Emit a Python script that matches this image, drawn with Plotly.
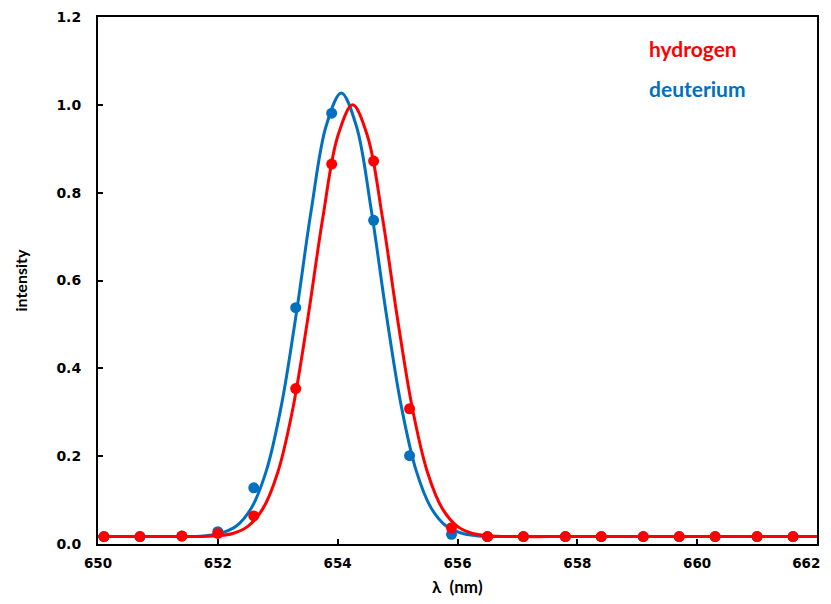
import plotly.graph_objects as go

# measured points
wavelength = [650.1, 650.7, 651.4, 652.0, 652.6, 653.3, 653.9, 654.6, 655.2, 655.9,
              656.5, 657.1, 657.8, 658.4, 659.1, 659.7, 660.3, 661.0, 661.6]
hydrogen = [0.017, 0.017, 0.018, 0.024, 0.064, 0.354, 0.865, 0.872, 0.308, 0.037,
            0.017, 0.017, 0.017, 0.017, 0.017, 0.017, 0.017, 0.017, 0.017]
deuterium = [0.017, 0.017, 0.018, 0.028, 0.128, 0.538, 0.981, 0.737, 0.201, 0.022,
             0.017, 0.017, 0.017, 0.017, 0.017, 0.017, 0.017, 0.017, 0.017]

# fitted curves
fit_h_x = [650.0, 651.0, 651.5, 652.0, 652.25, 652.5, 652.75, 653.0, 653.25, 653.5, 653.75,
           654.0, 654.25, 654.5, 654.75, 655.0, 655.25, 655.5, 655.75, 656.0, 656.25,
           656.5, 657.0, 658.0, 662.0]
fit_h_y = [0.017, 0.017, 0.017, 0.019, 0.024, 0.040, 0.080, 0.163, 0.307, 0.512, 0.741,
           0.928, 1.000, 0.928, 0.741, 0.512, 0.307, 0.163, 0.080, 0.040, 0.024,
           0.019, 0.017, 0.017, 0.017]
fit_d_x = [650.0, 651.0, 651.56, 651.81, 652.06, 652.31, 652.56, 652.81, 653.06, 653.31,
           653.56, 653.81, 654.06, 654.31, 654.56, 654.81, 655.06, 655.31, 655.56,
           655.81, 656.06, 656.31, 656.56, 657.0, 658.0, 662.0]
fit_d_y = [0.017, 0.017, 0.017, 0.019, 0.025, 0.041, 0.082, 0.167, 0.315, 0.525,
           0.761, 0.953, 1.027, 0.953, 0.761, 0.525, 0.315, 0.167, 0.082,
           0.041, 0.025, 0.019, 0.017, 0.017, 0.017, 0.017]

x_ticks = [650, 652, 654, 656, 658, 660, 662]
y_ticks = [0.0, 0.2, 0.4, 0.6, 0.8, 1.0, 1.2]

RED = "#FF0000"
BLUE = "#0070C0"

fig = go.Figure()
fig.add_trace(go.Scatter(x=fit_d_x, y=fit_d_y, mode="lines", line=dict(color=BLUE, width=3, shape="spline"),
                         showlegend=False, hoverinfo="skip"))
fig.add_trace(go.Scatter(x=fit_h_x, y=fit_h_y, mode="lines", line=dict(color=RED, width=3, shape="spline"),
                         showlegend=False, hoverinfo="skip"))
fig.add_trace(go.Scatter(x=wavelength, y=deuterium, mode="markers", marker=dict(color=BLUE, size=11),
                         name="deuterium", showlegend=False, cliponaxis=False))
fig.add_trace(go.Scatter(x=wavelength, y=hydrogen, mode="markers", marker=dict(color=RED, size=11),
                         name="hydrogen", showlegend=False, cliponaxis=False))

fig.add_annotation(x=0.764, y=0.941, xref="paper", yref="paper", xanchor="left", yanchor="middle",
                   text="<b>hydrogen</b>", showarrow=False, font=dict(family="Lato", size=21, color=RED))
fig.add_annotation(x=0.764, y=0.865, xref="paper", yref="paper", xanchor="left", yanchor="middle",
                   text="<b>deuterium</b>", showarrow=False, font=dict(family="Lato", size=21, color=BLUE))

# axis titles
fig.add_annotation(x=-(98 - 20) / 719, y=0.5, xref="paper", yref="paper", xanchor="center",
                   text="<b>intensity</b>", showarrow=False,
                   textangle=-90, font=dict(family="Lato", size=16, color="black"))
fig.add_annotation(x=0.5, y=-0.080, xref="paper", yref="paper", text="<b>λ  (nm)</b>", showarrow=False,
                   yanchor="middle", font=dict(family="Lato", size=17, color="black"))

axis_common = dict(showline=True, linecolor="black", linewidth=2, mirror=True, ticks="inside",
                   ticklen=5, tickwidth=2, tickcolor="black", showgrid=False, zeroline=False,
                   automargin=False, ticklabeloverflow="allow")

# last label padded so it stays inside the page edge
x_ticktext = [f"<b>{v}</b>" for v in x_ticks]
x_ticktext[-1] = x_ticktext[-1] + "\u00a0" * 5

fig.update_xaxes(range=[650, 662], tickvals=x_ticks, ticktext=x_ticktext,
                 ticklabelstandoff=6, tickfont=dict(family="DejaVu Sans", size=13.5, color="black"),
                 **axis_common)
fig.update_yaxes(range=[0, 1.2], tickvals=y_ticks, ticktext=[f"<b>{v:.1f}</b>" for v in y_ticks],
                 ticklabelstandoff=12, tickfont=dict(family="DejaVu Sans", size=14, color="black"),
                 **axis_common)

# page body has an 8px margin, so the figure is sized/offset to fit inside the window
fig.update_layout(width=815, height=588, margin=dict(l=90, r=6, t=9, b=52),
                  plot_bgcolor="white", paper_bgcolor="white")

fig.write_html("out.html")
